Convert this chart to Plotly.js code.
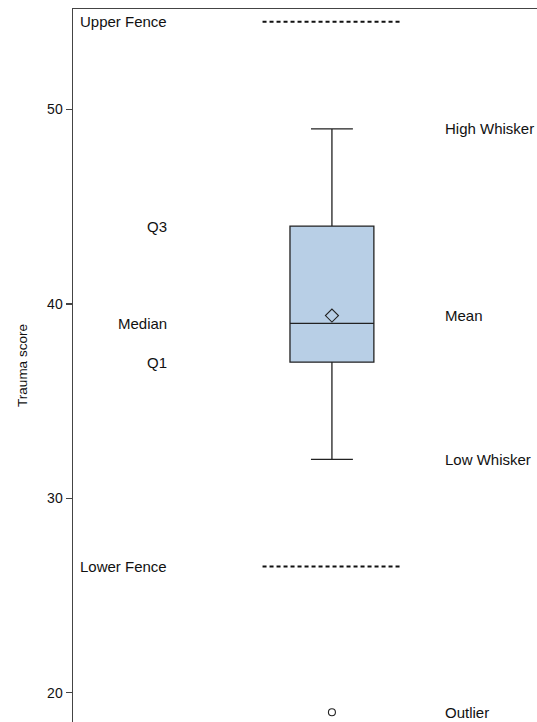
<!DOCTYPE html>
<html>
<head>
<meta charset="utf-8">
<script src="https://cdn.plot.ly/plotly-3.0.1.min.js"></script>
<style>html,body{margin:0;padding:0;background:#fff;}#chart{width:537px;height:722px;}</style>
</head>
<body>
<div id="chart"></div>
<script>
// Summary statistics of the trauma scores
const q1 = 37;
const median = 39;
const q3 = 44;
const lowWhisker = 32;
const highWhisker = 49;
const meanValue = 39.4;
const outliers = [19];
const lowerFence = 26.5;
const upperFence = 54.5;

const leftLabels = ["Upper Fence", "Q3", "Median", "Q1", "Lower Fence"];
const leftValues = [upperFence, q3, median, q1, lowerFence];
const rightLabels = ["High Whisker", "Mean", "Low Whisker", "Outlier"];
const rightValues = [highWhisker, meanValue, lowWhisker, outliers[0]];

const center = 1;
const fenceHalf = 0.268;
const fontFam = "Liberation Sans, Arial, sans-serif";

const traces = [
  {
    type: "box",
    x: [center],
    q1: [q1], median: [median], q3: [q3],
    lowerfence: [lowWhisker], upperfence: [highWhisker],
    width: 0.324,
    whiskerwidth: 0.5,
    boxpoints: false,
    fillcolor: "#b8cfe6",
    line: {color: "#222222", width: 1.3},
    hoverinfo: "skip",
    showlegend: false
  },
  {
    type: "scatter", mode: "markers",
    x: [center], y: [meanValue],
    marker: {symbol: "diamond-open", size: 10, color: "#222222", line: {width: 1.1}},
    showlegend: false
  },
  {
    type: "scatter", mode: "markers",
    x: outliers.map(() => center), y: outliers,
    marker: {symbol: "circle-open", size: 7, color: "#222222", line: {width: 1.1}},
    showlegend: false
  },
  {
    type: "scatter", mode: "lines",
    x: [center - fenceHalf, center + fenceHalf], y: [upperFence, upperFence],
    line: {color: "#111111", width: 2, dash: "4px,3px"},
    showlegend: false
  },
  {
    type: "scatter", mode: "lines",
    x: [center - fenceHalf, center + fenceHalf], y: [lowerFence, lowerFence],
    line: {color: "#111111", width: 2, dash: "4px,3px"},
    showlegend: false
  }
];

const annotations = [];
leftLabels.forEach((t, i) => annotations.push({
  x: 0.371, y: leftValues[i], xref: "x", yref: "y", text: t,
  showarrow: false, xanchor: "right", yanchor: "middle",
  font: {family: fontFam, size: 15, color: "#111"}
}));
rightLabels.forEach((t, i) => annotations.push({
  x: 1.428, y: rightValues[i], xref: "x", yref: "y", text: t,
  showarrow: false, xanchor: "left", yanchor: "middle",
  font: {family: fontFam, size: 15, color: "#111"}
}));

const layout = {
  width: 537, height: 722,
  margin: {l: 73, r: 0, t: 9, b: 0},
  paper_bgcolor: "#fff", plot_bgcolor: "#fff",
  showlegend: false,
  font: {family: fontFam, color: "#111"},
  xaxis: {
    range: [0, 1.792], showgrid: false, zeroline: false,
    showticklabels: false, ticks: "", side: "top",
    showline: true, linecolor: "#444", linewidth: 1.5
  },
  yaxis: {
    range: [18.5, 55.16], tickvals: [20, 30, 40, 50],
    showgrid: false, zeroline: false,
    showline: true, linecolor: "#444", linewidth: 1.5,
    ticks: "outside", ticklen: 6, tickwidth: 1.3, tickcolor: "#444",
    tickfont: {family: fontFam, size: 14, color: "#111"},
    title: {text: "Trauma score", font: {family: fontFam, size: 13.5, color: "#111"}, standoff: 16}
  },
  annotations: annotations
};

Plotly.newPlot("chart", traces, layout, {displayModeBar: false, staticPlot: true});
</script>
</body>
</html>
